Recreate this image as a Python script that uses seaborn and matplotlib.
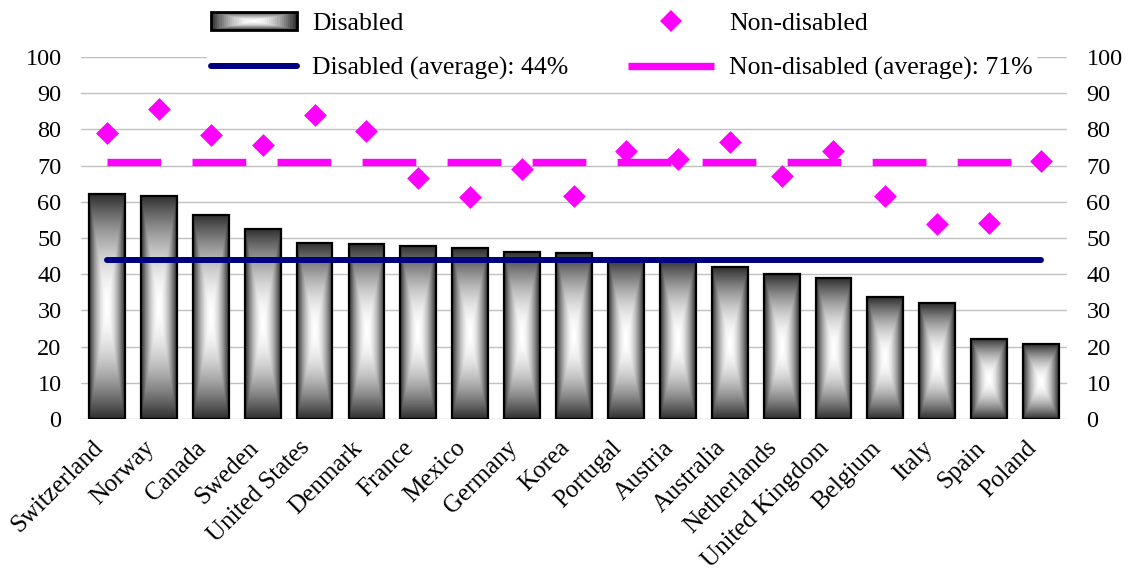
import numpy as np
import pandas as pd
import seaborn as sns
import matplotlib.pyplot as plt
from matplotlib.patches import Rectangle
from matplotlib.lines import Line2D
from matplotlib.legend_handler import HandlerBase

countries = ['Switzerland', 'Norway', 'Canada', 'Sweden', 'United States', 'Denmark',
             'France', 'Mexico', 'Germany', 'Korea', 'Portugal', 'Austria', 'Australia',
             'Netherlands', 'United Kingdom', 'Belgium', 'Italy', 'Spain', 'Poland']
disabled = [62.1, 61.6, 56.4, 52.6, 48.7, 48.3, 47.8, 47.2, 46.2, 45.9,
            44.3, 44.0, 41.9, 40.0, 38.9, 33.6, 32.0, 22.1, 20.7]
non_disabled = [79.1, 85.7, 78.4, 75.8, 84.0, 79.6, 66.6, 61.2, 69.0, 61.6,
                74.1, 71.8, 76.6, 67.0, 74.1, 61.6, 53.8, 54.2, 71.2]
disabled_avg = 43.9
non_disabled_avg = 70.9

sns.set_style('white')
plt.rcParams['font.family'] = ['Liberation Serif', 'DejaVu Serif']
plt.rcParams['text.color'] = 'black'
plt.rcParams['xtick.color'] = 'black'
plt.rcParams['ytick.color'] = 'black'

MAGENTA = '#ff00ff'
NAVY = '#000080'


def shade(t):
    # grey level of the "from centre" gradient: white in the middle, dark at the edges
    return 1 - 0.82 * t ** 1.8


class GradientHandler(HandlerBase):
    def create_artists(self, legend, orig_handle, xdescent, ydescent,
                       width, height, fontsize, trans):
        cx = -xdescent + width / 2
        cy = -ydescent + height / 2
        arts = []
        steps = 20
        for i in range(steps):
            t = 1 - i / steps
            r = Rectangle((cx - width / 2 * t, cy - height / 2 * t), width * t, height * t,
                          facecolor=str(shade(t)), edgecolor='none', transform=trans)
            arts.append(r)
        arts.append(Rectangle((-xdescent, -ydescent), width, height, facecolor='none',
                              edgecolor='black', lw=2, transform=trans))
        return arts


df = pd.DataFrame({'country': countries, 'disabled': disabled, 'non_disabled': non_disabled})

fig = plt.figure(figsize=(11.35, 5.74), dpi=100)
ax = fig.add_axes([0.0714, 0.270, 0.8687, 0.6307])

sns.barplot(data=df, x='country', y='disabled', width=0.69, color='white',
            edgecolor='black', linewidth=1.6, ax=ax, zorder=3)

# gradient fill of each bar
u = np.linspace(-1, 1, 60)
v = np.linspace(-1, 1, 200)
U, V = np.meshgrid(u, v)
grad = shade(np.maximum(np.abs(U), np.abs(V)))
for p in ax.patches:
    x0, y0 = p.get_x(), p.get_y()
    w, h = p.get_width(), p.get_height()
    ax.imshow(grad, cmap='gray', vmin=0, vmax=1, extent=(x0, x0 + w, y0, y0 + h),
              aspect='auto', zorder=2, interpolation='bilinear')
    p.set_facecolor('none')

xs = np.arange(len(countries))
ax.plot([xs[0], xs[-1]], [disabled_avg] * 2, color=NAVY, lw=4.3,
        solid_capstyle='round', zorder=4)
ax.plot([xs[0], xs[-1]], [non_disabled_avg] * 2, color=MAGENTA, lw=5.3,
        dashes=(7.3, 4.25), dash_capstyle='butt', zorder=4)
sns.scatterplot(x=xs, y=non_disabled, marker='D', s=135, color=MAGENTA,
                linewidth=0, ax=ax, zorder=5)

ax.set_xlim(-0.5, len(countries) - 0.5)
ax.set_ylim(0, 100)
ax.set_yticks(range(0, 101, 10))
ax.yaxis.grid(True, color='#c0c0c0', lw=1)
ax.xaxis.grid(False)
ax.set_axisbelow(True)
ax.set_xlabel('')
ax.set_ylabel('')
ax.tick_params(axis='y', length=0, pad=14, labelsize=17.5)
ax.tick_params(axis='x', length=0, pad=24, labelsize=18)
plt.setp(ax.get_xticklabels(), rotation=45, ha='right', va='bottom', rotation_mode='anchor')
sns.despine(ax=ax, left=True, bottom=True)

ax2 = ax.twinx()
ax2.set_ylim(0, 100)
ax2.set_yticks(range(0, 101, 10))
ax2.tick_params(axis='y', length=0, pad=14, labelsize=17.5)
sns.despine(ax=ax2, left=True, bottom=True, right=True)

bar_proxy = Rectangle((0, 0), 1, 1)
handles = [bar_proxy,
           Line2D([], [], color=NAVY, lw=4.3, solid_capstyle='round'),
           Line2D([], [], color=MAGENTA, marker='D', markersize=11.6, linestyle='none', markeredgewidth=0),
           Line2D([], [], color=MAGENTA, lw=5.3, solid_capstyle='butt')]
labels = ['Disabled', 'Disabled (average): 44%', 'Non-disabled', 'Non-disabled (average): 71%']
leg = ax.legend(handles, labels, handler_map={bar_proxy: GradientHandler()},
                ncol=2, loc='upper left', bbox_to_anchor=(0.171, 1.008),
                bbox_transform=fig.transFigure, fontsize=18.5, handlelength=3.35,
                handleheight=0.7, handletextpad=0.6, columnspacing=2.3,
                labelspacing=0.85, borderpad=0.15, frameon=True, fancybox=False,
                facecolor='white', edgecolor='none', framealpha=1)
leg.set_zorder(10)

fig.savefig('out.png', dpi=100)
